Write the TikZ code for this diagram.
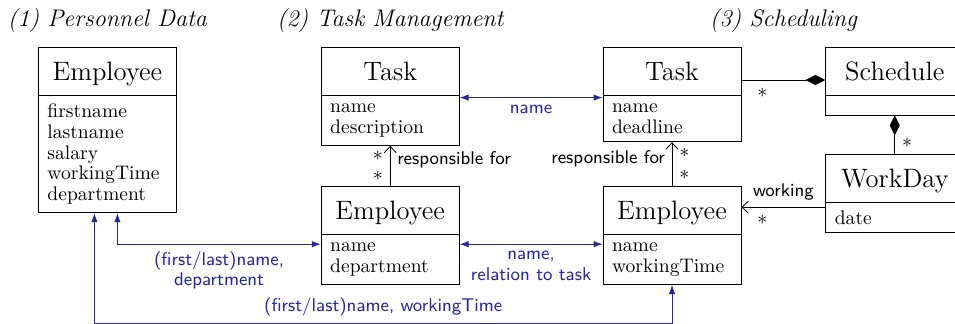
\documentclass[tikz,border=0pt]{standalone}
\usepackage{tikz}
\usetikzlibrary{arrows.meta}
\usetikzlibrary{shapes.multipart}
\usetikzlibrary{positioning}
\usetikzlibrary{calc}
\definecolor{linkblue}{RGB}{38,38,165}
\newcommand{\cstrut}{\rule[-3.35pt]{0pt}{15.5pt}}
\newcommand{\cname}[1]{{\fontsize{13.3}{16}\selectfont\cstrut #1}}
\tikzset{
  class/.style = {draw, rectangle split, rectangle split parts = 2,
    rectangle split part align = {center, left}, minimum width = 69pt,
    inner xsep = 4.5pt, inner ysep = 4pt, align = left,
    font = \fontsize{9.8}{10.4}\selectfont},
  heading/.style = {anchor = base, font = \fontsize{12}{14}\selectfont\itshape},
  lbl/.style = {font = \sffamily\fontsize{9.2}{10.2}\selectfont},
  mult/.style = {font = \fontsize{10}{11}\selectfont, inner sep = 1pt},
  blbl/.style = {lbl, text = linkblue, align = center},
  link/.style = {draw = linkblue, {Latex[length=4.5pt, width=3.2pt]}-{Latex[length=4.5pt, width=3.2pt]}},
  assoc/.style = {-{Straight Barb[length=3.2pt, width=6pt]}},
  compose/.style = {-{Diamond[length=10pt, width=5pt]}}
}

\begin{document}
\begin{tikzpicture}[x = 0.5pt, y = 0.5pt]
  \useasboundingbox (0,0) rectangle (955,-324);
  % classes
  \node [class, anchor = north west] (pdEmp) at (38,-47)
    {\cname{Employee} \nodepart{two} firstname\\lastname\\salary\\workingTime\\department};
  \node [class, right = 72pt of pdEmp.north east, anchor = north west] (tmTask)
    {\cname{Task} \nodepart{two} name\\description};
  \node [class, below = 69.5pt of tmTask.north, anchor = north] (tmEmp)
    {\cname{Employee} \nodepart{two} name\\department};
  \node [class, right = 71.5pt of tmTask.north east, anchor = north west] (scTask)
    {\cname{Task} \nodepart{two} name\\deadline};
  \node [class, right = 71.5pt of tmEmp.north east, anchor = north west] (scEmp)
    {\cname{Employee} \nodepart{two} name\\workingTime};
  \node [class, right = 42pt of scTask.north east, anchor = north west] (scSched)
    {\cname{Schedule} \nodepart{two} \rule{0pt}{1.5pt}};
  \node [class, below = 53.5pt of scSched.north, anchor = north] (scDay)
    {\cname{WorkDay} \nodepart{two} date};
  % headings
  \node [heading] (hd1) at ([yshift = 10pt]pdEmp.north) {(1) Personnel Data};
  \node [heading] (hd2) at ([yshift = 10pt]tmTask.north) {(2) Task Management};
  \node [heading] (hd3) at ($(scTask.north)!0.5!(scSched.north) + (0,20)$) {(3) Scheduling};
  % shared data
  \draw [link] ([yshift = -1.2pt]tmTask.one split east) -- ([yshift = -1.2pt]scTask.one split west)
    node [midway, below, blbl] {name};
  \draw [link] ([yshift = -5pt]tmEmp.one split east) -- ([yshift = -5pt]scEmp.one split west)
    node [midway, below, blbl] {name,\\relation to task};
  \draw [link] ([xshift = 5pt]pdEmp.south) |- ([yshift = -5pt]tmEmp.one split west)
    node [pos = 0.75, below, blbl] {(first/last)name,\\department};
  \draw [link] ([xshift = -6.5pt]pdEmp.south) -- ++(0,-110) -| (scEmp.south)
    node [pos = 0.25, above, blbl] {(first/last)name, workingTime};
  % associations
  \draw [assoc] (tmEmp.north) -- (tmTask.south)
    node [pos = 0.64, right, lbl] {responsible for}
    node [pos = 0.25, left = 2.5pt, mult] {$*$}
    node [pos = 0.76, left = 2.5pt, mult] {$*$};
  \draw [assoc] (scEmp.north) -- (scTask.south)
    node [pos = 0.63, left, lbl] {responsible for}
    node [pos = 0.25, right = 2.5pt, mult] {$*$}
    node [pos = 0.75, right = 2.5pt, mult] {$*$};
  \coordinate (wk) at ([yshift = -2.5pt]scDay.one split west);
  \draw [assoc] (wk) -- (wk -| scEmp.east)
    node [midway, above, lbl] {working}
    node [pos = 0.75, below = 3pt, mult] {$*$};
  % compositions
  \draw [compose] ([yshift = -16.5pt]scTask.north east) -- ([yshift = -16.5pt]scSched.north west)
    node [pos = 0.25, below = 3pt, mult] {$*$};
  \draw [compose] (scDay.north) -- (scSched.south)
    node [pos = 0.3, right = 2.5pt, mult] {$*$};
\end{tikzpicture}
\end{document}
